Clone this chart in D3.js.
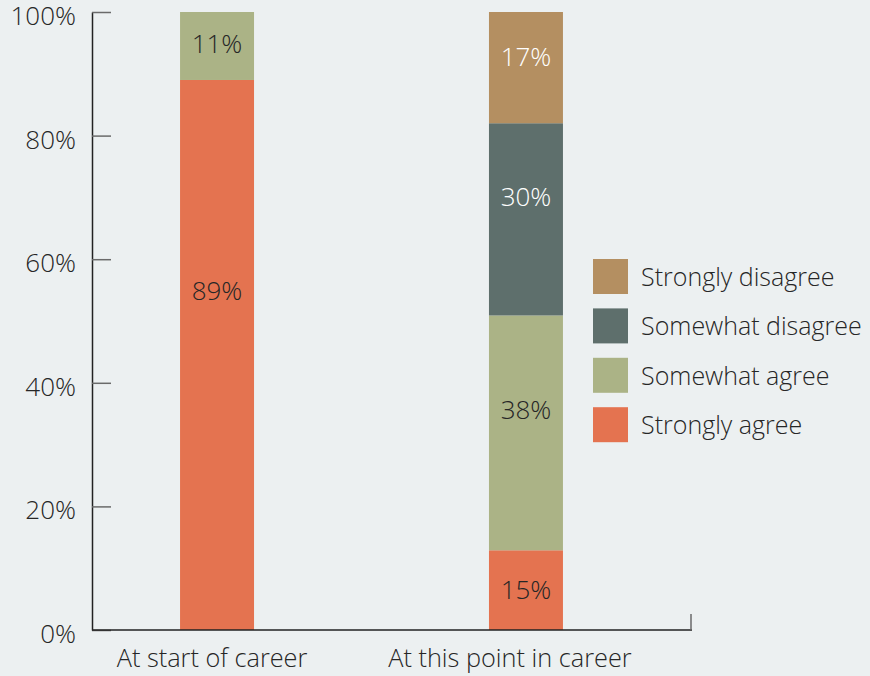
<!DOCTYPE html>
<html>
<head>
<meta charset="utf-8">
<script src="https://cdn.jsdelivr.net/npm/d3@7"></script>
<style>
  html, body { margin: 0; padding: 0; background: #ecf0f1; }
  #chart text { font-family: "Open Sans", "Noto Sans", sans-serif; font-weight: 300; fill: #262626; }
</style>
</head>
<body>
<div id="chart"></div>
<script>
// stacked 100% bars: agreement at start vs now
const categories = ["At start of career", "At this point in career"];
const seriesNames = ["Strongly agree", "Somewhat agree", "Somewhat disagree", "Strongly disagree"];
const stronglyAgree = [89, 12.9];
const somewhatAgree = [11, 38];
const somewhatDisagree = [0, 31.1];
const stronglyDisagree = [0, 18];
// printed labels (as shown), and where they sit, in % units
const labelText = [["89%", "15%"], ["11%", "38%"], [null, "30%"], [null, "17%"]];
const labelAt = [[54.9, 6.5], [94.8, 35.6], [null, 70.2], [null, 92.8]];
const yTicks = [0, 20, 40, 60, 80, 100];
const colors = ["#e47350", "#abb386", "#5e6f6c", "#b48f61"];
const labelColors = ["#262626", "#262626", "#ffffff", "#ffffff"];

(function () {
  const width = 870, height = 676;
  const left = 92, right = 692, top = 12, bottom = 630;
  const catLabelShift = [-5, -16]; // category labels sit a little left of bar centres

  const svg = d3.select("#chart").append("svg")
    .attr("width", width).attr("height", height);

  const table = categories.map((c, i) => ({
    category: c,
    "Strongly agree": stronglyAgree[i],
    "Somewhat agree": somewhatAgree[i],
    "Somewhat disagree": somewhatDisagree[i],
    "Strongly disagree": stronglyDisagree[i],
  }));
  const stacked = d3.stack().keys(seriesNames)(table);

  const x = d3.scaleBand().domain(categories).range([left, 651])
    .paddingInner(0.7605).paddingOuter(0.285);
  const y = d3.scaleLinear().domain([0, 100]).range([bottom, top]);

  // bars
  svg.append("g").selectAll("g")
    .data(stacked)
    .join("g")
    .attr("fill", (d, i) => colors[i])
    .selectAll("rect")
    .data(d => d.filter(s => s[1] - s[0] > 0))
    .join("rect")
    .attr("x", d => x(d.data.category))
    .attr("width", x.bandwidth())
    .attr("y", d => y(d[1]))
    .attr("height", d => y(d[0]) - y(d[1]));

  // value labels
  const labels = [];
  seriesNames.forEach((s, si) => categories.forEach((c, ci) => {
    if (labelText[si][ci]) labels.push({ c, si, text: labelText[si][ci], at: labelAt[si][ci] });
  }));
  svg.append("g").selectAll("text")
    .data(labels)
    .join("text")
    .attr("x", d => x(d.c) + x.bandwidth() / 2)
    .attr("y", d => y(d.at))
    .attr("dy", "0.36em")
    .attr("text-anchor", "middle")
    .attr("font-size", 26)
    .style("fill", d => labelColors[d.si])
    .text(d => d.text);

  // y axis
  const yAxis = svg.append("g")
    .attr("transform", `translate(${left},0)`)
    .call(d3.axisLeft(y).tickValues(yTicks).tickFormat(d => d + "%")
      .tickSizeInner(-19).tickSizeOuter(0).tickPadding(16));
  yAxis.select(".domain").attr("stroke", "#222").attr("stroke-width", 1.5);
  yAxis.selectAll(".tick line").attr("stroke", "#6a6a6a").attr("stroke-width", 1.5);
  yAxis.selectAll(".tick text").attr("font-size", 26).attr("dy", "0.48em");

  // x axis baseline + end tick
  svg.append("line")
    .attr("x1", left).attr("x2", right).attr("y1", bottom).attr("y2", bottom)
    .attr("stroke", "#222").attr("stroke-width", 1.5);
  svg.append("line")
    .attr("x1", right - 1).attr("x2", right - 1).attr("y1", bottom - 16).attr("y2", bottom)
    .attr("stroke", "#6a6a6a").attr("stroke-width", 1.5);

  svg.append("g").selectAll("text")
    .data(categories)
    .join("text")
    .attr("x", (d, i) => x(d) + x.bandwidth() / 2 + catLabelShift[i])
    .attr("y", 667)
    .attr("text-anchor", "middle")
    .attr("font-size", 25.3)
    .text(d => d);

  // legend, top = Strongly disagree
  const legend = svg.append("g").attr("transform", "translate(593,259)")
    .selectAll("g")
    .data(seriesNames.slice().reverse())
    .join("g")
    .attr("transform", (d, i) => `translate(0,${i * 49.4})`);
  legend.append("rect")
    .attr("width", 35).attr("height", 35)
    .attr("fill", d => colors[seriesNames.indexOf(d)]);
  legend.append("text")
    .attr("x", 48).attr("y", 17.5).attr("dy", "0.38em")
    .attr("font-size", 25)
    .text(d => d);
})();
</script>
</body>
</html>
